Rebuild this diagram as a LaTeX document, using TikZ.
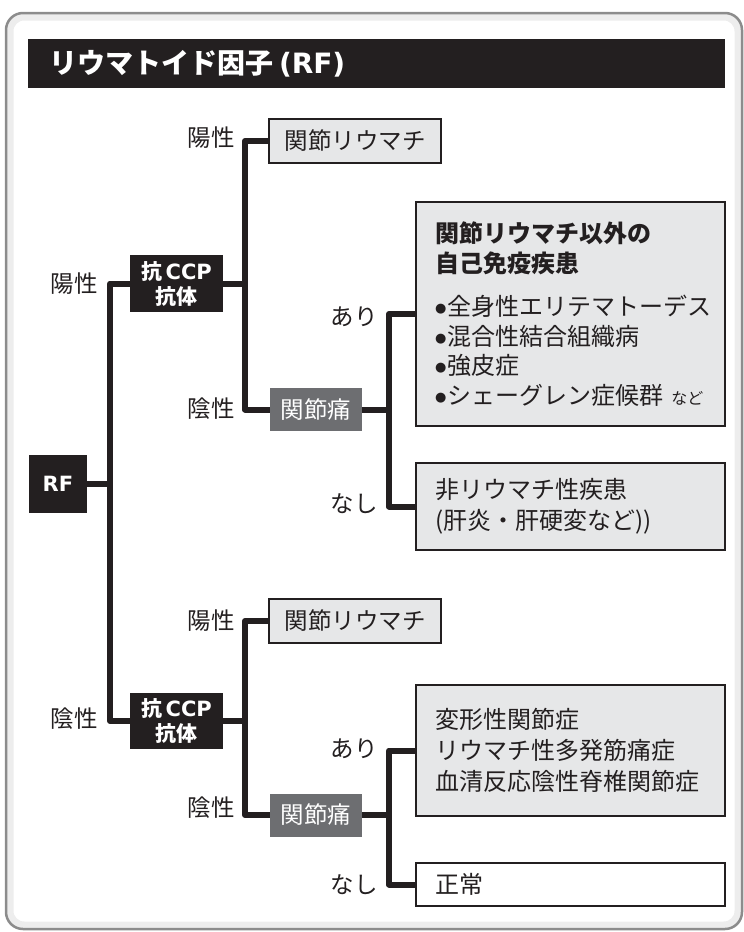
\documentclass[tikz,border=0pt]{standalone}
\usepackage{fontspec}
\setmainfont{Noto Sans CJK JP}
\newfontfamily\verdanalike{DejaVu Sans}
\usetikzlibrary{positioning}
\definecolor{ink}{HTML}{231F20}
\definecolor{paingray}{HTML}{6D6E71}
\definecolor{boxgray}{HTML}{E6E7E8}
\definecolor{framegray}{HTML}{8C8C8C}
\newcommand{\bul}{\raisebox{3pt}{\verdanalike\fontsize{13}{13}\selectfont ●}\kern1pt}

\begin{document}
\begin{tikzpicture}[x=1pt,y=-1pt,
    conn/.style={line width=6pt,draw=ink,line join=round},
    lbl/.style={text=ink,inner sep=0pt,font=\fontsize{23.5}{28}\selectfont},
    titlebar/.style={fill=ink,text=white,inner xsep=21pt,inner ysep=0pt,text width=655pt,minimum width=697pt,minimum height=49pt,align=left,font=\bfseries\fontsize{28}{30}\selectfont},
    blackbox/.style={fill=ink,text=white,inner sep=0pt,align=center,font=\bfseries\fontsize{21}{25}\selectfont},
    painbox/.style={fill=paingray,text=white,inner sep=0pt,minimum width=92pt,minimum height=43pt,font=\fontsize{23.5}{28}\selectfont},
    rabox/.style={draw=ink,line width=2.5pt,fill=boxgray,text=ink,inner sep=0pt,minimum width=172pt,minimum height=44pt,font=\fontsize{23.5}{28}\selectfont},
    dxbox/.style={draw=ink,line width=2.5pt,fill=boxgray,text=ink,inner xsep=19pt,inner ysep=0pt,text width=271pt,minimum width=309pt,align=left,font=\fontsize{24}{31}\selectfont}]
  \useasboundingbox (0,0) rectangle (744,932);
  \draw[line width=7pt,black!7,rounded corners=14] (10,17) rectangle (738,925);
  \draw[line width=2.5pt,framegray,rounded corners=17] (6,13) rectangle (742,929);

  \node[titlebar] (title) at (376.5,63.5) {リウマトイド因子\hspace{6pt}{\verdanalike\bfseries(RF)}};

  \node[blackbox,minimum width=58pt,minimum height=58pt] (rf) at (58,484) {\verdanalike\bfseries RF};
  \node[blackbox,minimum width=93pt,minimum height=57pt] (ccp1) at (176.5,283.5) {抗\,{\verdanalike\bfseries CCP}\\抗体};
  \node[blackbox,minimum width=93pt,minimum height=56pt] (ccp2) at (176.5,721) {抗\,{\verdanalike\bfseries CCP}\\抗体};

  \node[rabox] (ra1) at (355,141) {関節リウマチ};
  \node[rabox] (ra2) at (355,621) {関節リウマチ};
  \node[painbox] (pain1) at (316,409.5) {関節痛};
  \node[painbox] (pain2) at (316,815) {関節痛};

  \node[dxbox,minimum height=224pt,font=\fontsize{24}{29.5}\selectfont] (auto) at (570.5,314)
    {\bfseries 関節リウマチ以外の\\自己免疫疾患\\[14pt]\mdseries
     \bul 全身性エリテマトーデス\\\bul 混合性結合組織病\\\bul 強皮症\\\bul シェーグレン症候群~{\fontsize{16}{16}\selectfont など}};
  \node[dxbox,minimum height=87pt] (nonra) at (570.5,506.5) {非リウマチ性疾患\\(肝炎・肝硬変など))};
  \node[dxbox,minimum height=131pt] (degen) at (570.5,750.5) {変形性関節症\\リウマチ性多発筋痛症\\血清反応陰性脊椎関節症};
  \node[dxbox,fill=white,minimum height=43pt] (normal) at (570.5,884.5) {正常};

  \coordinate (r1) at (110,283.5);
  \coordinate (r2) at (110,721);
  \coordinate (a1) at (245,141);
  \coordinate (a2) at (245,409.5);
  \coordinate (a3) at (245,621);
  \coordinate (a4) at (245,815);
  \coordinate (b1) at (389,314);
  \coordinate (b2) at (389,506.5);
  \coordinate (b3) at (389,750.5);
  \coordinate (b4) at (389,884.5);

  \draw[conn] (ccp1.west) -- (r1) -- (r2) -- (ccp2.west);
  \draw[conn] (rf.east) -- (rf.east -| r1);
  \draw[conn] (ra1.west) -- (a1) -- (a2) -- (pain1.west);
  \draw[conn] (ccp1.east) -- (ccp1.east -| a1);
  \draw[conn] (ra2.west) -- (a3) -- (a4) -- (pain2.west);
  \draw[conn] (ccp2.east) -- (ccp2.east -| a3);
  \draw[conn] (auto.west) -- (b1) -- (b2) -- (nonra.west);
  \draw[conn] (pain1.east) -- (pain1.east -| b1);
  \draw[conn] (degen.west) -- (b3) -- (b4) -- (normal.west);
  \draw[conn] (pain2.east) -- (pain2.east -| b3);

  \node[lbl,left=12pt of r1] (rpos) {陽性};
  \node[lbl,left=12pt of r2,yshift=2pt] (rneg) {陰性};
  \node[lbl,left=10pt of a1,yshift=3pt] (apos1) {陽性};
  \node[lbl,left=10pt of a2,yshift=1pt] (aneg1) {陰性};
  \node[lbl,left=10pt of a3] (apos2) {陽性};
  \node[lbl,left=10pt of a4,yshift=7pt] (aneg2) {陰性};
  \node[lbl,left=11pt of b1,yshift=-3pt] (yes1) {あり};
  \node[lbl,left=11pt of b2,yshift=3pt] (no1) {なし};
  \node[lbl,left=11pt of b3,yshift=2pt] (yes2) {あり};
  \node[lbl,left=11pt of b4] (no2) {なし};
\end{tikzpicture}
\end{document}
